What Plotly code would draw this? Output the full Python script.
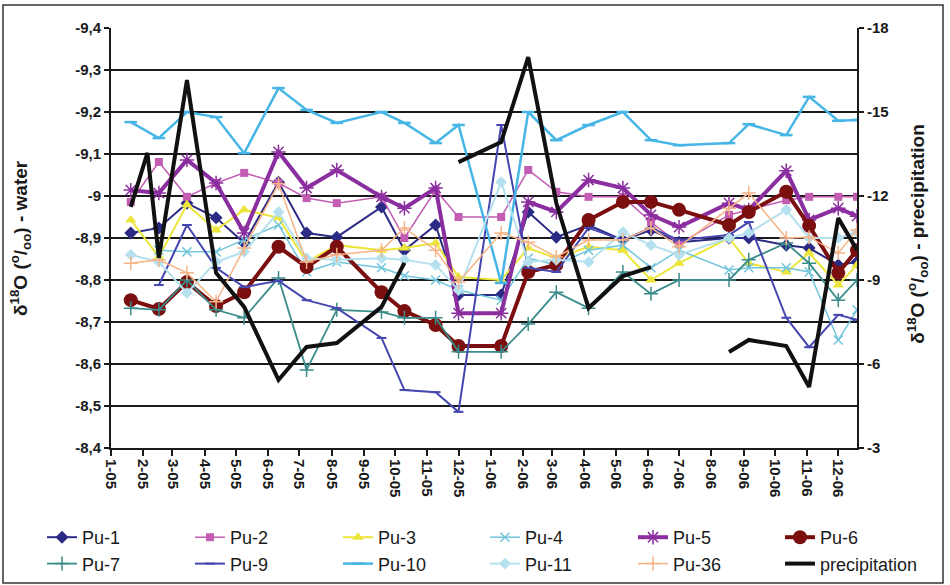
import plotly.graph_objects as go

# ---------------- data ----------------
dates = ["2005-01-20", "2005-02-16", "2005-03-15", "2005-04-12", "2005-05-09", "2005-06-11",
         "2005-07-08", "2005-08-06", "2005-09-18", "2005-10-10", "2005-11-09", "2005-12-01",
         "2006-01-11", "2006-02-06", "2006-03-05", "2006-04-05", "2006-05-08", "2006-06-04",
         "2006-07-01", "2006-08-18", "2006-09-06", "2006-10-12", "2006-11-03", "2006-12-01",
         "2006-12-19"]

pu1 = [-8.912, -8.924, -8.983, -8.948, -8.888, -9.033, -8.912, -8.902, -8.974, -8.871, -8.931, -8.764,
       -8.764, -8.962, -8.902, -8.931, -8.895, -8.919, -8.890, -8.900, -8.900, -8.883, -8.876, -8.836, -8.843]
pu2 = [-8.986, -9.081, -8.998, -9.031, -9.055, -9.031, -8.995, -8.983, -8.998, -8.900, -9.014, -8.950,
       -8.950, -9.062, -9.010, -8.998, -8.998, -8.938, -8.886, -8.955, -8.967, -8.990, -8.998, -8.998, -8.998]
pu3 = [-8.943, -8.855, -8.979, -8.919, -8.967, -8.948, -8.843, -8.883, -8.871, -8.876, -8.888, -8.807,
       -8.800, -8.876, -8.852, -8.879, -8.871, -8.800, -8.840, -8.900, -8.840, -8.819, -8.864, -8.788, -8.836]
pu4 = [None, -8.871, -8.867, -8.867, -8.895, -8.931, -8.819, -8.843, -8.829, -8.810, -8.800, -8.776,
       -8.752, -8.852, -8.836, -8.871, -8.883, -8.829, -8.871, -8.824, -8.829, -8.829, -8.819, -8.657, -8.729]
pu5 = [-9.014, -9.007, -9.086, -9.031, -8.912, -9.105, -9.019, -9.062, -8.998, -8.971, -9.019, -8.721,
       -8.721, -8.986, -8.962, -9.038, -9.019, -8.955, -8.926, -8.983, -8.967, -9.060, -8.943, -8.971, -8.952]
pu6 = [-8.752, -8.731, -8.795, -8.738, -8.771, -8.879, -8.831, -8.879, -8.771, -8.726, -8.693, -8.643,
       -8.643, -8.819, -8.836, -8.943, -8.986, -8.986, -8.967, -8.931, -8.962, -9.010, -8.929, -8.817, -8.871]
pu7 = [-8.733, -8.729, -8.800, -8.729, -8.710, -8.805, -8.586, -8.729, -8.724, -8.710, -8.710, -8.629,
       -8.629, -8.695, -8.771, -8.733, -8.819, -8.767, -8.800, -8.800, -8.848, -8.888, -8.840, -8.752, -8.800]
pu9 = [None, -8.788, -8.931, -8.829, -8.783, -8.798, -8.752, -8.733, -8.662, -8.538, -8.533, -8.486,
       -9.169, -8.829, -8.819, -8.924, -8.895, -8.924, -8.895, -8.907, -8.938, -8.710, -8.640, -8.717, -8.705]
pu10 = [-9.176, -9.138, -9.200, -9.188, -9.102, -9.257, -9.205, -9.174, -9.200, -9.174, -9.126, -9.169,
        -8.793, -9.200, -9.133, -9.169, -9.200, -9.133, -9.121, -9.126, -9.171, -9.145, -9.236, -9.179, -9.181]
pu11 = [-8.860, -8.843, -8.769, -8.843, -8.867, -8.962, -8.852, -8.848, -8.852, -8.848, -8.836, -8.776,
        -9.033, -8.843, -8.848, -8.843, -8.914, -8.883, -8.860, -8.900, -8.912, -8.967, -8.900, -8.900, -8.914]
pu36 = [-8.840, -8.848, -8.817, -8.748, -8.876, -9.029, -8.843, -8.860, -8.871, -8.924, -8.871, -8.795,
        -8.912, -8.890, -8.855, -8.895, -8.895, -8.924, -8.879, -8.971, -9.007, -8.900, -8.902, -8.864, -8.919]

precip_dates = ["2005-01-20", "2005-02-05", "2005-02-16", "2005-03-15", "2005-04-12", "2005-05-09",
                "2005-06-11", "2005-07-08", "2005-08-06", "2005-09-18", "2005-10-10", "2005-11-09",
                "2005-12-01", "2006-01-11", "2006-02-06", "2006-03-05", "2006-04-05", "2006-05-08",
                "2006-06-04", "2006-07-01", "2006-08-18", "2006-09-06", "2006-10-12", "2006-11-03",
                "2006-12-01", "2006-12-19"]
precip = [-11.61, -13.54, -9.79, -16.14, -9.25, -8.04, -5.43, -6.61, -6.75, -8.04, -9.61, None,
          -13.21, -13.93, -16.96, -11.75, -8.0, -9.14, -9.46, None, -6.43, -6.86, -6.64, -5.18,
          -11.21, -10.07]

water_ticks = [-9.4, -9.3, -9.2, -9.1, -9.0, -8.9, -8.8, -8.7, -8.6, -8.5, -8.4]
water_ticktext = ["-9,4", "-9,3", "-9,2", "-9,1", "-9", "-8,9", "-8,8", "-8,7", "-8,6", "-8,5", "-8,4"]
precip_ticks = [-18, -15, -12, -9, -6, -3]
precip_ticktext = ["-18", "-15", "-12", "-9", "-6", "-3"]

# ---------------- styles ----------------
FONT = "Liberation Sans, Arial, sans-serif"
INK = "#1a1a1a"

# (name, values, line, marker, legend column)
series = [
    ("Pu-1", pu1, dict(color="#2b2a85", width=2), dict(symbol="diamond", size=10, color="#2b2a85"), 1),
    ("Pu-2", pu2, dict(color="#c25db3", width=1.5), dict(symbol="square", size=8, color="#c25db3"), 2),
    ("Pu-3", pu3, dict(color="#ece53a", width=2), dict(symbol="triangle-up", size=10, color="#ece53a"), 3),
    ("Pu-4", pu4, dict(color="#72c6dc", width=1.5),
     dict(symbol="x-thin-open", size=9, color="#72c6dc", line=dict(color="#72c6dc", width=1.5)), 4),
    ("Pu-5", pu5, dict(color="#8b2e9f", width=4),
     dict(symbol="asterisk-open", size=12, color="#8b2e9f", line=dict(color="#8b2e9f", width=1.5)), 5),
    ("Pu-6", pu6, dict(color="#7b0f10", width=4), dict(symbol="circle", size=14, color="#7b0f10"), 6),
    ("Pu-7", pu7, dict(color="#3a8c8a", width=1.8),
     dict(symbol="cross-thin-open", size=10, color="#3a8c8a", line=dict(color="#3a8c8a", width=1.5)), 1),
    ("Pu-9", pu9, dict(color="#4646b0", width=2),
     dict(symbol="line-ew-open", size=7, color="#4646b0", line=dict(color="#4646b0", width=2)), 2),
    ("Pu-10", pu10, dict(color="#47b6e6", width=2.5),
     dict(symbol="line-ew-open", size=9, color="#47b6e6", line=dict(color="#47b6e6", width=2.5)), 3),
    ("Pu-11", pu11, dict(color="#b5e0ee", width=2), dict(symbol="diamond", size=9, color="#b5e0ee"), 4),
    ("Pu-36", pu36, dict(color="#f6b486", width=1.5),
     dict(symbol="cross-thin-open", size=10, color="#f6b486", line=dict(color="#f6b486", width=1.5)), 5),
]

def legend_id(col):
    return "legend" if col == 1 else f"legend{col}"

fig = go.Figure()
for name, vals, line, marker, col in series:
    fig.add_trace(go.Scatter(x=dates, y=vals, name=name, mode="lines+markers",
                             line=line, marker=marker, yaxis="y", connectgaps=False,
                             legend=legend_id(col), legendgroup=name))

fig.add_trace(go.Scatter(x=precip_dates, y=precip, name="precipitation", mode="lines",
                         line=dict(color="#111111", width=4), yaxis="y2", connectgaps=False,
                         legend="legend6", legendgroup="precipitation"))

# legend columns (left pixel of each column)
col_px = [42, 190, 338, 485, 633, 780]
legend_common = dict(orientation="v", xref="container", yref="container", xanchor="left",
                     yanchor="top", y=1 - 519 / 585, bgcolor="rgba(0,0,0,0)", borderwidth=0,
                     tracegroupgap=3, itemwidth=30, traceorder="normal",
                     font=dict(size=18, family=FONT, color=INK))
legends = {}
for i, px in enumerate(col_px, start=1):
    legends[legend_id(i)] = dict(legend_common, x=px / 950)

fig.update_layout(
    width=950, height=585,
    margin=dict(l=111, r=93, t=28, b=137, autoexpand=False),
    paper_bgcolor="white", plot_bgcolor="white",
    font=dict(family=FONT, color=INK),
    showlegend=True,
    xaxis=dict(type="date", range=["2005-01-01", "2006-12-19"], dtick="M1", tick0="2005-01-01",
               tickformat="%-m-%y", tickangle=90, ticks="outside", ticklen=6, tickwidth=2,
               tickcolor=INK, showline=True, linecolor=INK, linewidth=2,
               showgrid=False, zeroline=False,
               tickfont=dict(size=15, family=FONT, color=INK, weight="bold")),
    yaxis=dict(range=[-8.4, -9.4], tickvals=water_ticks, ticktext=water_ticktext,
               ticks="outside", ticklen=5, tickwidth=2, tickcolor=INK,
               showline=True, linecolor=INK, linewidth=2,
               showgrid=True, gridcolor=INK, gridwidth=2, zeroline=False,
               tickfont=dict(size=15, family=FONT, color=INK, weight="bold")),
    yaxis2=dict(range=[-3, -18], tickvals=precip_ticks, ticktext=precip_ticktext,
                overlaying="y", side="right", anchor="x",
                ticks="outside", ticklen=5, tickwidth=2, tickcolor=INK,
                showline=True, linecolor=INK, linewidth=2,
                showgrid=False, zeroline=False,
                tickfont=dict(size=15, family=FONT, color=INK, weight="bold")),
    annotations=[
        dict(text="δ<sup>18</sup>O (<sup>o</sup>/<sub>oo</sub>) - water", xref="paper", yref="paper",
             x=(20 - 111) / 746, y=0.5, textangle=-90, showarrow=False, xanchor="center",
             yanchor="middle", font=dict(size=19, family=FONT, color=INK, weight="bold")),
        dict(text="δ<sup>18</sup>O (<sup>o</sup>/<sub>oo</sub>) - precipitation", xref="paper",
             yref="paper", x=(918 - 111) / 746, y=0.51, textangle=-90, showarrow=False,
             xanchor="center", yanchor="middle",
             font=dict(size=19, family=FONT, color=INK, weight="bold")),
    ],
    shapes=[
        dict(type="rect", xref="paper", yref="paper",
             x0=(3 - 111) / 746, x1=(943 - 111) / 746, y0=(448 - 583) / 420, y1=(448 - 5) / 420,
             line=dict(color="#333333", width=1.5), fillcolor="rgba(0,0,0,0)", layer="below"),
    ],
    **legends,
)

fig.write_html("out.html")
